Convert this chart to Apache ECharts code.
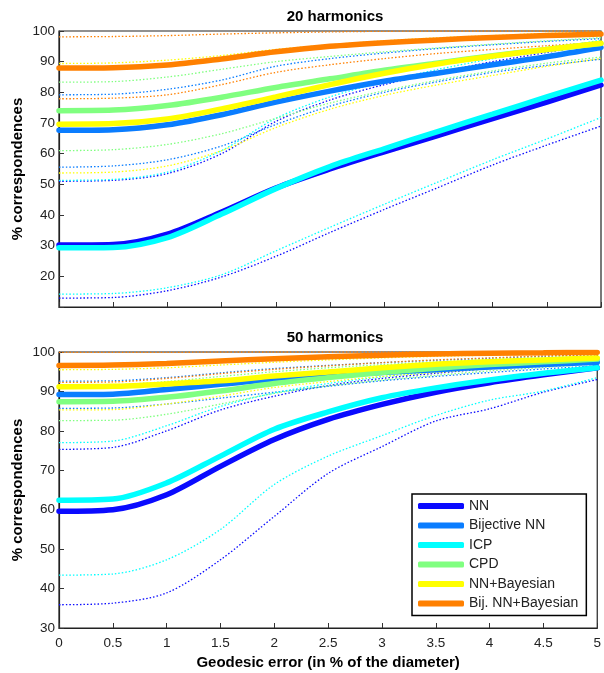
<!DOCTYPE html>
<html><head><meta charset="utf-8">
<script src="https://cdn.jsdelivr.net/npm/echarts@6/dist/echarts.min.js"></script>
<style>html,body{margin:0;padding:0;background:#fff}#c{width:604px;height:673px}</style>
</head><body><div id="c"></div>
<script>
// x positions (geodesic error, % of diameter)
var xs = [0, 0.5, 1, 1.5, 2, 2.5, 3, 3.5, 4, 4.5, 5];
var xTicks = [0, 0.5, 1, 1.5, 2, 2.5, 3, 3.5, 4, 4.5, 5];
var yTicksTop = [20, 30, 40, 50, 60, 70, 80, 90, 100];
var yTicksBottom = [30, 40, 50, 60, 70, 80, 90, 100];
var names = ['NN', 'Bijective NN', 'ICP', 'CPD', 'NN+Bayesian', 'Bij. NN+Bayesian'];
var titles = ['20 harmonics', '50 harmonics'];

// ---- 20 harmonics: mean curves ----
var nn20  = [30.2, 30.4, 33.8, 41.0, 48.8, 55.0, 60.6, 66.0, 71.4, 76.8, 82.4];
var bij20 = [67.6, 67.8, 69.4, 72.7, 76.8, 80.4, 83.6, 86.3, 89.0, 91.6, 94.6];
var icp20 = [29.3, 29.4, 32.6, 40.3, 48.6, 55.8, 61.6, 67.3, 72.9, 78.5, 84.0];
var cpd20 = [74.0, 74.2, 75.7, 78.4, 81.6, 84.4, 87.2, 89.6, 91.9, 94.0, 95.9];
var nnb20 = [69.6, 69.8, 71.3, 74.6, 78.5, 82.5, 86.2, 89.3, 91.8, 94.0, 96.0];
var bnb20 = [87.9, 88.0, 88.9, 90.9, 93.2, 95.0, 96.2, 97.1, 97.9, 98.5, 99.0];
// ---- 20 harmonics: upper / lower bounds ----
var nn20Hi  = [51.0, 51.3, 53.5, 60.0, 70.5, 77.5, 82.5, 86.5, 90.0, 93.0, 96.0];
var nn20Lo  = [12.9, 13.1, 15.3, 19.8, 26.5, 34.3, 41.8, 49.0, 56.3, 62.8, 69.0];
var bij20Hi = [79.2, 79.4, 81.0, 84.0, 88.5, 91.0, 92.8, 94.3, 95.5, 96.6, 97.5];
var bij20Lo = [55.6, 56.0, 58.0, 62.5, 69.5, 75.5, 80.0, 83.5, 86.5, 88.8, 90.8];
var icp20Hi = [51.3, 51.6, 54.0, 61.0, 71.5, 78.5, 83.5, 87.5, 91.0, 94.0, 97.0];
var icp20Lo = [14.2, 14.4, 16.3, 20.5, 28.3, 36.0, 43.5, 50.8, 58.0, 64.8, 71.8];
var cpd20Hi = [83.3, 83.5, 85.0, 87.5, 90.0, 91.7, 93.2, 94.5, 95.7, 96.8, 97.8];
var cpd20Lo = [61.0, 61.3, 63.0, 66.5, 71.5, 76.5, 80.5, 84.0, 87.0, 89.5, 91.5];
var nnb20Hi = [89.4, 89.6, 90.5, 92.0, 94.0, 95.5, 96.8, 97.8, 98.5, 99.2, 99.6];
var nnb20Lo = [53.7, 54.0, 56.0, 61.0, 68.5, 74.5, 79.0, 82.5, 85.5, 88.5, 91.0];
var bnb20Hi = [98.1, 98.2, 98.5, 99.0, 99.4, 99.7, 99.9, 100, 100, 100, 100];
var bnb20Lo = [77.9, 78.1, 79.2, 82.5, 86.5, 89.0, 91.0, 92.7, 94.0, 95.2, 96.3];

// ---- 50 harmonics: mean curves ----
var nn50  = [59.6, 60.0, 63.8, 71.0, 77.8, 82.9, 86.7, 89.8, 92.2, 94.2, 96.0];
var bij50 = [89.2, 89.3, 90.5, 91.8, 93.1, 94.0, 94.8, 95.5, 96.2, 96.8, 97.4];
var icp50 = [62.4, 62.7, 66.8, 73.6, 80.4, 84.8, 88.4, 90.9, 92.9, 94.6, 96.0];
var cpd50 = [87.4, 87.5, 88.5, 90.1, 92.0, 93.5, 94.8, 95.9, 96.8, 97.5, 98.2];
var nnb50 = [91.2, 91.3, 91.9, 92.7, 93.9, 94.9, 96.0, 96.9, 97.5, 98.0, 98.5];
var bnb50 = [96.6, 96.7, 97.1, 97.7, 98.3, 98.8, 99.2, 99.5, 99.7, 99.8, 99.9];
// ---- 50 harmonics: upper / lower bounds ----
var nn50Hi  = [75.3, 75.8, 80.0, 85.3, 88.8, 91.5, 93.3, 94.6, 95.8, 96.8, 97.6];
var nn50Lo  = [35.9, 36.3, 38.9, 47.3, 58.3, 69.2, 76.0, 82.5, 85.6, 89.8, 93.0];
var bij50Hi = [92.6, 92.7, 93.5, 94.7, 95.8, 96.6, 97.3, 97.9, 98.4, 98.9, 99.3];
var bij50Lo = [85.7, 85.8, 86.8, 88.3, 89.8, 91.3, 92.7, 93.8, 94.8, 95.7, 96.5];
var icp50Hi = [77.0, 77.4, 81.3, 86.2, 89.6, 92.0, 93.7, 95.0, 96.1, 97.1, 97.9];
var icp50Lo = [43.4, 43.7, 47.3, 55.0, 66.4, 73.6, 78.8, 83.9, 87.8, 90.1, 93.5];
var cpd50Hi = [91.6, 91.7, 92.5, 93.8, 95.0, 96.0, 96.8, 97.5, 98.1, 98.6, 99.0];
var cpd50Lo = [82.6, 82.7, 84.2, 86.8, 89.5, 91.4, 92.9, 94.1, 95.2, 96.1, 97.0];
var nnb50Hi = [95.5, 95.6, 96.0, 96.7, 97.4, 98.0, 98.5, 98.9, 99.2, 99.5, 99.7];
var nnb50Lo = [85.3, 85.4, 86.8, 88.8, 91.0, 92.5, 93.8, 94.8, 95.7, 96.5, 97.2];
var bnb50Hi = [99.9, 99.9, 99.9, 100, 100, 100, 100, 100, 100, 100, 100];
var bnb50Lo = [92.3, 92.4, 93.3, 94.5, 95.6, 96.5, 97.3, 98.0, 98.5, 99.0, 99.3];

var colors = ['#0a0aff', '#0a7dff', '#00ffff', '#80ff80', '#ffff00', '#ff8000'];

var means = [[nn20, bij20, icp20, cpd20, nnb20, bnb20], [nn50, bij50, icp50, cpd50, nnb50, bnb50]];
var his = [[nn20Hi, bij20Hi, icp20Hi, cpd20Hi, nnb20Hi, bnb20Hi], [nn50Hi, bij50Hi, icp50Hi, cpd50Hi, nnb50Hi, bnb50Hi]];
var los = [[nn20Lo, bij20Lo, icp20Lo, cpd20Lo, nnb20Lo, bnb20Lo], [nn50Lo, bij50Lo, icp50Lo, cpd50Lo, nnb50Lo, bnb50Lo]];

function pts(arr) { return xs.map(function (x, i) { return [x, arr[i]]; }); }

var series = [];
for (var p = 0; p < 2; p++) {
  for (var k = 0; k < 6; k++) {
    [his[p][k], los[p][k]].forEach(function (b, j) {
      series.push({
        type: 'line', name: names[k] + (j ? ' lower' : ' upper') + ' ' + p,
        data: pts(b), xAxisIndex: p, yAxisIndex: p, symbol: 'none', smooth: 0.3,
        lineStyle: { width: 1.3, color: colors[k], type: [1.5, 2] }, itemStyle: { color: colors[k] },
        z: 2, silent: true
      });
    });
  }
}
for (var p2 = 0; p2 < 2; p2++) {
  for (var k2 = 0; k2 < 6; k2++) {
    series.push({
      type: 'line', name: names[k2], data: pts(means[p2][k2]), xAxisIndex: p2, yAxisIndex: p2,
      symbol: 'none', smooth: 0.3, lineStyle: { width: 5.5, color: colors[k2], cap: 'round' },
      itemStyle: { color: colors[k2] }, z: 3
    });
  }
}

var font = 'Liberation Sans, Arial, sans-serif';
function xAx(i, showLabel) {
  return {
    type: 'value', gridIndex: i, min: 0, max: 5, interval: 0.5,
    axisLine: { lineStyle: { color: '#222', width: 1.2 } },
    axisTick: { inside: true, length: 5, lineStyle: { color: '#333' } },
    axisLabel: { show: showLabel, color: '#222', fontSize: 13.5, fontFamily: font, margin: 8 },
    splitLine: { show: false },
    name: showLabel ? 'Geodesic error (in % of the diameter)' : '',
    nameLocation: 'middle', nameGap: 27, nameMoveOverlap: false,
    nameTextStyle: { fontSize: 15, fontWeight: 'bold', color: '#000', fontFamily: font }
  };
}
function yAx(i, min, ticks) {
  return {
    type: 'value', gridIndex: i, min: min, max: 100, interval: 10,
    axisLine: { show: true, lineStyle: { color: '#222', width: 1.2 } },
    axisTick: { inside: true, length: 5, lineStyle: { color: '#333' } },
    axisLabel: {
      color: '#222', fontSize: 13.5, fontFamily: font, margin: 4,
      formatter: function (v) { return ticks.indexOf(v) >= 0 ? String(v) : ''; }
    },
    splitLine: { show: false },
    name: '% correspondences', nameLocation: 'middle', nameGap: 34, nameRotate: 90, nameMoveOverlap: false,
    nameTextStyle: { fontSize: 15, fontWeight: 'bold', color: '#000', fontFamily: font }
  };
}

var chart = echarts.init(document.getElementById('c'), null, { renderer: 'canvas' });
chart.setOption({
  animation: false,
  backgroundColor: '#fff',
  title: [
    { text: titles[0], left: 330, top: 4, textAlign: 'center', textStyle: { fontSize: 15, fontWeight: 'bold', color: '#000', fontFamily: font } },
    { text: titles[1], left: 330, top: 325, textAlign: 'center', textStyle: { fontSize: 15, fontWeight: 'bold', color: '#000', fontFamily: font } }
  ],
  grid: [
    { left: 59, right: 3, top: 31, height: 276, show: true, borderColor: '#222', borderWidth: 1.2 },
    { left: 59, right: 3, top: 352, height: 276, show: true, borderColor: '#222', borderWidth: 1.2 }
  ],
  xAxis: [xAx(0, false), xAx(1, true)],
  yAxis: [yAx(0, 10, yTicksTop), yAx(1, 30, yTicksBottom)],
  legend: {
    data: names.map(function (n) { return { name: n, icon: 'roundRect' }; }),
    orient: 'vertical', left: 412, top: 494, width: 172,
    itemWidth: 46, itemHeight: 6, itemGap: 3.5,
    padding: [4, 8, 4, 6],
    backgroundColor: '#fff', borderColor: '#000', borderWidth: 1.5,
    textStyle: { fontSize: 14, color: '#222', fontFamily: font, lineHeight: 16 }
  },
  series: series
});
</script></body></html>
